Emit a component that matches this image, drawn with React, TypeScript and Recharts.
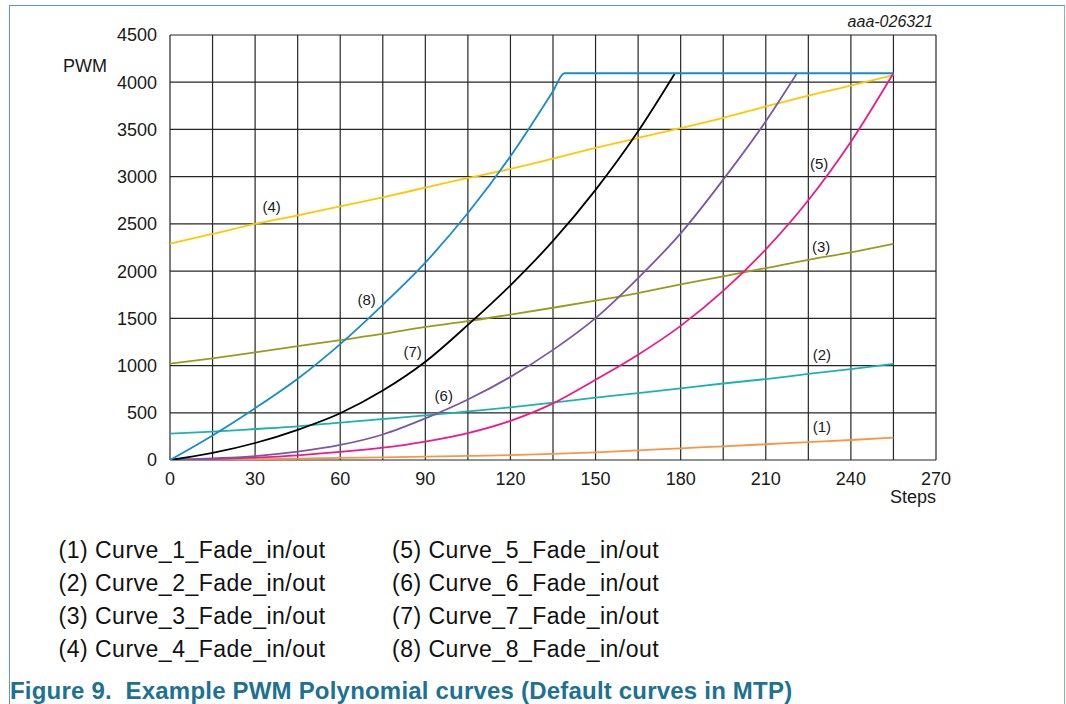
import { LineChart, Line, XAxis, YAxis, CartesianGrid, ReferenceDot } from 'recharts'

const steps = [0, 15, 30, 45, 60, 75, 90, 105, 120, 135, 150, 165, 180, 195, 210, 225, 240, 255]
const curve1 = [0, 4, 9, 15, 22, 28, 35, 43, 52, 64, 81, 101, 124, 145, 167, 190, 212, 237]
const curve2 = [279, 300, 328, 357, 396, 434, 472, 515, 558, 607, 660, 709, 759, 810, 857, 911, 963, 1017]
const curve3 = [1020, 1077, 1140, 1205, 1270, 1335, 1410, 1470, 1540, 1612, 1688, 1768, 1860, 1944, 2032, 2120, 2199, 2288]
const curve4 = [2290, 2393, 2499, 2590, 2686, 2781, 2884, 2986, 3082, 3191, 3304, 3410, 3513, 3622, 3743, 3859, 3965, 4075]
const curve5 = [0, 10, 26, 50, 85, 130, 195, 285, 415, 600, 850, 1115, 1420, 1790, 2230, 2750, 3370, 4095]
// curves 6-8 hit the 4095 ceiling before step 255
const curve6Steps = [0, 15, 30, 45, 60, 75, 90, 105, 120, 135, 150, 165, 180, 195, 210, 221]
const curve6 = [0, 18, 42, 88, 159, 270, 440, 640, 880, 1166, 1502, 1926, 2400, 2969, 3587, 4095]
const curve7Steps = [0, 15, 30, 45, 60, 75, 90, 105, 120, 135, 150, 165, 178]
const curve7 = [0, 75, 180, 320, 495, 735, 1040, 1430, 1850, 2320, 2860, 3480, 4095]
const curve8Steps = [0, 15, 30, 45, 60, 75, 90, 105, 120, 135, 139, 255]
const curve8 = [0, 260, 548, 860, 1227, 1643, 2090, 2615, 3216, 3905, 4095, 4095]

const colors = ['#f79646', '#1ab3b3', '#9c9a1c', '#ffc800', '#ec1a8c', '#7a58a6', '#000000', '#168ccc']
const names = [
  'Curve_1_Fade_in/out', 'Curve_2_Fade_in/out', 'Curve_3_Fade_in/out', 'Curve_4_Fade_in/out',
  'Curve_5_Fade_in/out', 'Curve_6_Fade_in/out', 'Curve_7_Fade_in/out', 'Curve_8_Fade_in/out',
]

// in-plot "(n)" tags
const tagText = ['(1)', '(2)', '(3)', '(4)', '(5)', '(6)', '(7)', '(8)']
const tagStep = [229.8, 229.8, 229.5, 35.8, 228.8, 96.5, 85.5, 69.3]
const tagPwm = [355, 1117, 2259, 2682, 3140, 685, 1145, 1700]

const xTicks = [0, 15, 30, 45, 60, 75, 90, 105, 120, 135, 150, 165, 180, 195, 210, 225, 240, 255, 270]
const yTicks = [0, 500, 1000, 1500, 2000, 2500, 3000, 3500, 4000, 4500]

const toPoints = (xs: number[], ys: number[]) => xs.map((s, i) => ({ step: s, pwm: ys[i] }))

const series = [
  toPoints(steps, curve1),
  toPoints(steps, curve2),
  toPoints(steps, curve3),
  toPoints(steps, curve4),
  toPoints(steps, curve5),
  toPoints(curve6Steps, curve6),
  toPoints(curve7Steps, curve7),
  toPoints(curve8Steps, curve8),
]

const FONT = "'Liberation Sans', Arial, Helvetica, sans-serif"

export default function App() {
  return (
    <div
      style={{
        position: 'absolute', left: 0, top: 0, width: 1066, height: 704,
        background: '#fff', overflow: 'hidden', fontFamily: FONT,
      }}
    >
      {/* figure frame */}
      <div
        style={{
          position: 'absolute', left: 9, top: 5, width: 1056, height: 760,
          borderLeft: '1.5px solid #5a9ab3', borderTop: '1.5px solid #5a9ab3',
          borderRight: '1.5px solid #7fb3c7', boxSizing: 'border-box',
        }}
      />
      <div style={{ position: 'absolute', left: 0, top: 0 }}>
        <LineChart width={1066} height={520} margin={{ top: 35, right: 130, bottom: 30, left: 110 }}>
          <CartesianGrid stroke="#262626" strokeWidth={1.2} />
          <XAxis
            dataKey="step"
            type="number"
            domain={[0, 270]}
            ticks={xTicks}
            interval={0}
            allowDataOverflow
            tickFormatter={(v: number) => (v % 30 === 0 ? String(v) : '')}
            tick={{ fill: '#1a1a1a', fontSize: 18 }}
            tickLine={false}
            axisLine={false}
            tickSize={10}
            tickMargin={2}
            height={30}
          />
          <YAxis
            type="number"
            domain={[0, 4500]}
            ticks={yTicks}
            interval={0}
            allowDataOverflow
            tick={{ fill: '#1a1a1a', fontSize: 18 }}
            tickLine={false}
            axisLine={false}
            tickSize={10}
            tickMargin={3}
            width={60}
          />
          {series.map((data, i) => (
            <Line
              key={names[i]}
              data={data}
              dataKey="pwm"
              name={names[i]}
              type="monotone"
              stroke={colors[i]}
              strokeWidth={1.8}
              dot={false}
              activeDot={false}
              isAnimationActive={false}
            />
          ))}
          {tagText.map((t, i) => (
            <ReferenceDot
              key={t}
              x={tagStep[i]}
              y={tagPwm[i]}
              r={0}
              fill="none"
              stroke="none"
              label={{ value: t, position: 'center', fill: '#1a1a1a', fontSize: 15 }}
            />
          ))}
        </LineChart>
      </div>
      <svg
        width={1066}
        height={704}
        style={{ position: 'absolute', left: 0, top: 0, pointerEvents: 'none', fontFamily: FONT }}
      >
        <text x={63} y={71.5} fontSize={18} fill="#1a1a1a">PWM</text>
        <text x={936} y={503} fontSize={18} fill="#1a1a1a" textAnchor="end">Steps</text>
        <text x={933} y={27} fontSize={16} fill="#1a1a1a" textAnchor="end" fontStyle="italic">aaa-026321</text>
        {names.map((n, i) => (
          <text
            key={n}
            x={i < 4 ? 58.5 : 392}
            y={558 + (i % 4) * 33}
            fontSize={23}
            letterSpacing={0.5}
            fill="#111"
          >
            {`(${i + 1}) ${n}`}
          </text>
        ))}
        <text
          x={10}
          y={699}
          fontSize={24}
          fontWeight="bold"
          letterSpacing={0.2}
          fill="#1d7193"
          style={{ whiteSpace: 'pre' }}
        >
          {'Figure 9.  Example PWM Polynomial curves (Default curves in MTP)'}
        </text>
      </svg>
    </div>
  )
}
